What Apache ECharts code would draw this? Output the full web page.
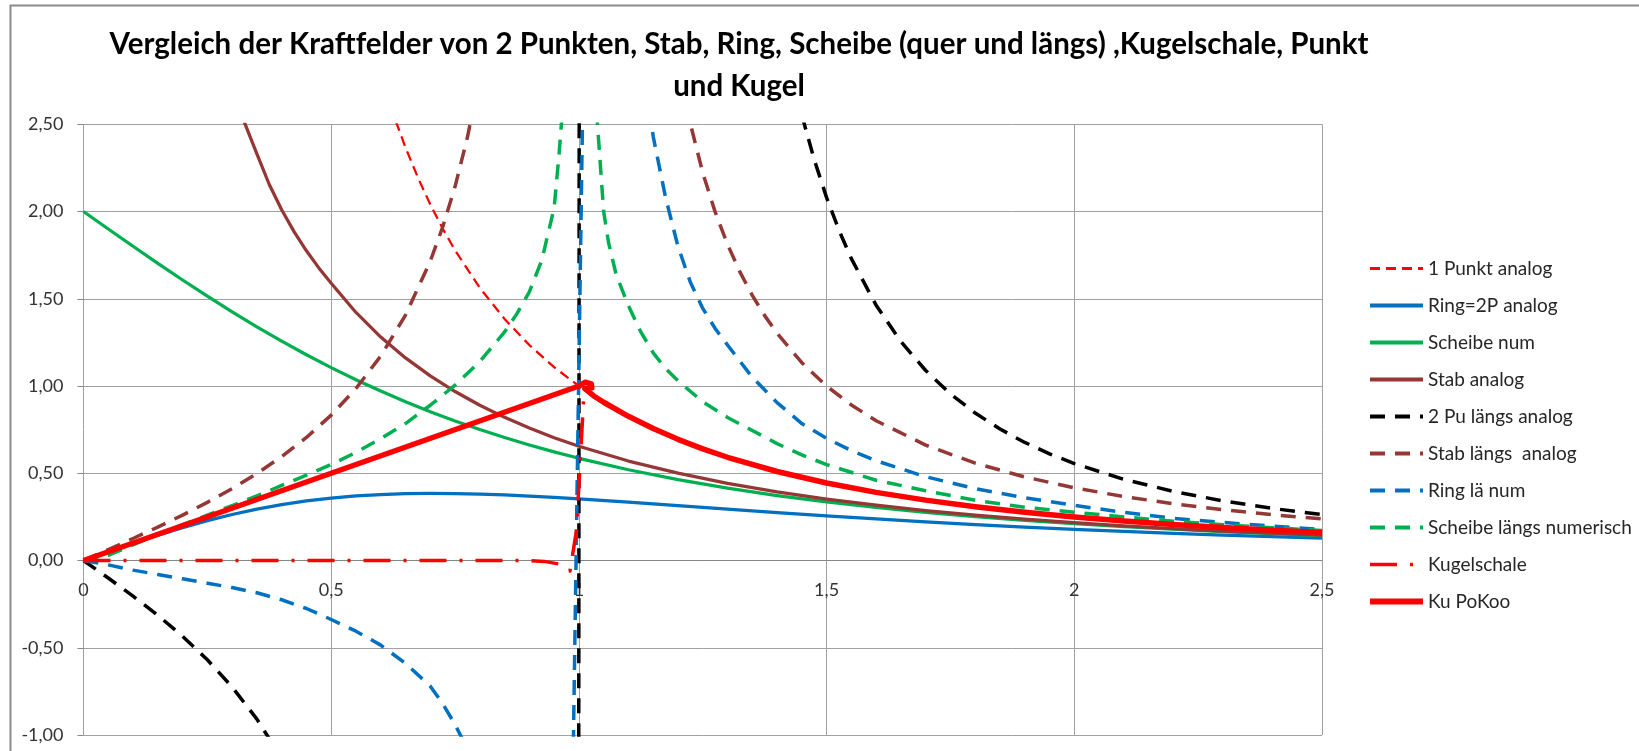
<!DOCTYPE html>
<html><head><meta charset="utf-8">
<script src="https://cdn.jsdelivr.net/npm/echarts/dist/echarts.min.js"></script>
<style>html,body{margin:0;padding:0;background:#fff}#c{width:1639px;height:751px}</style>
</head><body><div id="c"></div>
<script>
const titleText = 'Vergleich der Kraftfelder von 2 Punkten, Stab, Ring, Scheibe (quer und längs) ,Kugelschale, Punkt\nund Kugel';
const seriesNames = ['1 Punkt analog','Ring=2P analog','Scheibe num','Stab analog','2 Pu längs analog','Stab längs  analog','Ring lä num','Scheibe längs numerisch','Kugelschale','Ku PoKoo'];
const xTicks = [0, 0.5, 1, 1.5, 2, 2.5];
const yTicks = [-1, -0.5, 0, 0.5, 1, 1.5, 2, 2.5];

const punkt1 = [[0.6,2.7778],[0.625,2.56],[0.65,2.3669],[0.675,2.1948],[0.7,2.0408],[0.725,1.9025],[0.75,1.7778],[0.8,1.5625],[0.85,1.3841],[0.9,1.2346],[0.95,1.108],[1.0,1.0],[1.05,0.907],[1.1,0.8264],[1.15,0.7561],[1.2,0.6944],[1.3,0.5917],[1.4,0.5102],[1.5,0.4444],[1.6,0.3906],[1.7,0.346],[1.8,0.3086],[1.9,0.277],[2.0,0.25],[2.1,0.2268],[2.2,0.2066],[2.3,0.189],[2.4,0.1736],[2.5,0.16]];
const ring2P = [[0,0],[0.05,0.0498],[0.1,0.0985],[0.15,0.1451],[0.2,0.1886],[0.25,0.2283],[0.3,0.2636],[0.35,0.2943],[0.4,0.3202],[0.45,0.3413],[0.5,0.3578],[0.55,0.37],[0.6,0.3783],[0.65,0.3831],[0.7,0.3849],[0.75,0.384],[0.8,0.3809],[0.85,0.376],[0.9,0.3696],[0.95,0.362],[1.0,0.3536],[1.1,0.3348],[1.2,0.3149],[1.3,0.2947],[1.4,0.2749],[1.5,0.256],[1.6,0.2382],[1.7,0.2216],[1.8,0.2062],[1.9,0.192],[2.0,0.1789],[2.1,0.1669],[2.2,0.1559],[2.3,0.1458],[2.4,0.1366],[2.5,0.1281]];
const scheibe = [[0,2],[0.05,1.9001],[0.1,1.801],[0.15,1.7033],[0.2,1.6078],[0.25,1.5149],[0.3,1.4253],[0.35,1.3393],[0.4,1.2572],[0.45,1.1793],[0.5,1.1056],[0.55,1.0362],[0.6,0.971],[0.65,0.91],[0.7,0.8531],[0.75,0.8],[0.8,0.7506],[0.85,0.7047],[0.9,0.6621],[0.95,0.6225],[1.0,0.5858],[1.1,0.5201],[1.2,0.4636],[1.3,0.4148],[1.4,0.3725],[1.5,0.3359],[1.6,0.304],[1.7,0.2761],[1.8,0.2517],[1.9,0.2302],[2.0,0.2111],[2.1,0.1943],[2.2,0.1793],[2.3,0.1659],[2.4,0.1538],[2.5,0.143]];
const stab = [[0.3,2.72],[0.325,2.51],[0.35,2.33],[0.375,2.155],[0.4,2.01],[0.425,1.885],[0.45,1.775],[0.475,1.677],[0.5,1.5894],[0.55,1.4216],[0.6,1.2808],[0.65,1.161],[0.7,1.058],[0.75,0.9684],[0.8,0.8898],[0.85,0.8205],[0.9,0.759],[0.95,0.704],[1.0,0.6547],[1.1,0.57],[1.2,0.5004],[1.3,0.4424],[1.4,0.3936],[1.5,0.3522],[1.6,0.3168],[1.7,0.2862],[1.8,0.2598],[1.9,0.2367],[2.0,0.2165],[2.1,0.1987],[2.2,0.1829],[2.3,0.1689],[2.4,0.1565],[2.5,0.1453]];
const punkte2Laengs = [[0,0],[0.05,-0.1005],[0.1,-0.2041],[0.15,-0.314],[0.2,-0.434],[0.25,-0.5689],[0.3,-0.7246],[0.35,-0.9091],[0.4,-1.1338],[0.5,-1.7778],[0.7,-5.3826],[0.9,-49.86],[0.95,-199.87],[1.05,200.12],[1.1,50.11],[1.2,12.6],[1.3,5.65],[1.4,3.2118],[1.45,2.5524],[1.475,2.2977],[1.5,2.08],[1.525,1.8925],[1.55,1.7298],[1.6,1.4629],[1.65,1.2547],[1.7,1.089],[1.75,0.955],[1.8,0.845],[1.85,0.7536],[1.9,0.6767],[1.95,0.6115],[2.0,0.5556],[2.1,0.4653],[2.2,0.3961],[2.3,0.3418],[2.4,0.2984],[2.5,0.263]];
const stabLaengs = [[0,0],[0.05,0.0627],[0.1,0.1263],[0.15,0.1918],[0.2,0.2604],[0.25,0.3333],[0.3,0.4121],[0.35,0.4986],[0.4,0.5952],[0.45,0.7053],[0.5,0.8333],[0.55,0.9857],[0.6,1.1719],[0.65,1.4069],[0.7,1.7157],[0.725,1.9104],[0.75,2.1429],[0.775,2.4257],[0.8,2.7778],[0.9,5.92],[1.1,5.95],[1.2,2.8409],[1.22,2.5594],[1.25,2.2222],[1.275,1.998],[1.3,1.8116],[1.325,1.654],[1.35,1.5198],[1.375,1.4035],[1.4,1.3021],[1.45,1.1338],[1.5,1.0],[1.55,0.8913],[1.6,0.8013],[1.7,0.6614],[1.8,0.558],[1.9,0.4789],[2.0,0.4167],[2.1,0.3666],[2.2,0.3255],[2.3,0.2914],[2.4,0.2626],[2.5,0.2381]];
const ringLae = [[0,0],[0.05,-0.025],[0.1,-0.055],[0.15,-0.08],[0.2,-0.105],[0.25,-0.13],[0.3,-0.155],[0.35,-0.185],[0.4,-0.225],[0.45,-0.275],[0.5,-0.338],[0.55,-0.405],[0.6,-0.485],[0.65,-0.59],[0.7,-0.72],[0.725,-0.82],[0.75,-0.94],[0.775,-1.08],[0.8,-1.25],[0.9,-2.8],[0.97,-4.7],[1.02,5.0],[1.05,8.0],[1.1,3.5],[1.15,2.43],[1.175,2.08],[1.2,1.8],[1.225,1.595],[1.25,1.445],[1.275,1.33],[1.3,1.235],[1.35,1.05],[1.4,0.905],[1.45,0.785],[1.5,0.7],[1.55,0.63],[1.6,0.572],[1.7,0.48],[1.8,0.412],[1.9,0.36],[2.0,0.316],[2.1,0.276],[2.2,0.242],[2.3,0.218],[2.4,0.197],[2.5,0.178]];
const scheibeLae = [[0,0],[0.05,0.03],[0.1,0.09],[0.15,0.15],[0.2,0.205],[0.25,0.26],[0.3,0.315],[0.35,0.37],[0.4,0.43],[0.45,0.49],[0.5,0.55],[0.55,0.62],[0.6,0.698],[0.65,0.785],[0.7,0.89],[0.75,1.005],[0.8,1.14],[0.85,1.31],[0.875,1.415],[0.9,1.54],[0.925,1.72],[0.95,2.02],[0.96,2.33],[0.97,2.7],[0.99,4.0],[1.01,4.0],[1.03,2.8],[1.04,2.4],[1.05,2.0],[1.06,1.82],[1.075,1.64],[1.1,1.46],[1.125,1.31],[1.15,1.19],[1.175,1.1],[1.2,1.03],[1.25,0.91],[1.3,0.82],[1.35,0.745],[1.4,0.67],[1.45,0.605],[1.5,0.55],[1.6,0.46],[1.7,0.4],[1.8,0.345],[1.9,0.305],[2.0,0.277],[2.1,0.25],[2.2,0.225],[2.3,0.205],[2.4,0.188],[2.5,0.172]];
const kugelschale = [[0,0],[0.9,0],[0.93,-0.005],[0.96,-0.02],[0.982,-0.06],[0.995,0.17],[1.01,0.95],[1.02,0.961],[1.05,0.907],[1.1,0.8264],[1.2,0.6944],[1.3,0.5917],[1.4,0.5102],[1.5,0.4444],[1.6,0.3906],[1.7,0.346],[1.8,0.3086],[1.9,0.277],[2.0,0.25],[2.1,0.2268],[2.2,0.2066],[2.3,0.189],[2.4,0.1736],[2.5,0.16]];
const kuPoKoo = [[0,0],[0.5,0.5],[1.0,1.0],[1.013,1.022],[1.025,1.012],[1.026,0.99],[1.012,0.985],[1.03,0.943],[1.05,0.907],[1.1,0.8264],[1.15,0.7561],[1.2,0.6944],[1.25,0.64],[1.3,0.5917],[1.4,0.5102],[1.5,0.4444],[1.6,0.3906],[1.7,0.346],[1.8,0.3086],[1.9,0.277],[2.0,0.25],[2.1,0.2268],[2.2,0.2066],[2.3,0.189],[2.4,0.1736],[2.5,0.16]];

const seriesData = [punkt1, ring2P, scheibe, stab, punkte2Laengs, stabLaengs, ringLae, scheibeLae, kugelschale, kuPoKoo];
const styles = [
  {color:'#FF0000', width:2.25, type:[10,6], legendWidth:3},
  {color:'#0070C0', width:3.25, type:'solid', legendWidth:4},
  {color:'#00B050', width:3.25, type:'solid', legendWidth:4},
  {color:'#953735', width:3.25, type:'solid', legendWidth:4},
  {color:'#000000', width:3.5, type:[15,10], legendWidth:4},
  {color:'#953735', width:3.5, type:[15,10], legendWidth:4},
  {color:'#0070C0', width:3.5, type:[15,10], legendWidth:4},
  {color:'#00B050', width:3.5, type:[15,10], legendWidth:4},
  {color:'#FF0000', width:3.5, type:[27,13,3,13], legendWidth:3.5},
  {color:'#FF0000', width:5.5, type:'solid', legendWidth:6}
];

const FONT = 'Lato';
const GRID_L = 83.5, GRID_R = 317, GRID_T = 124.3, GRID_B = 16;
const chart = echarts.init(document.getElementById('c'), null, {renderer:'canvas'});
chart.setOption({
  animation: false,
  backgroundColor: '#ffffff',
  title: {
    text: titleText, left: 739, top: 23, textAlign: 'center', padding: 0,
    textStyle: {fontFamily: FONT, fontWeight: 'bold', fontSize: 29.5, lineHeight: 42, color: '#000'}
  },
  graphic: [{type:'rect', silent:true, z:-10, shape:{x:10.5, y:5.5, width:2000, height:1000}, style:{fill:'none', stroke:'#8a8a8a', lineWidth:2}}],
  legend: {
    orient: 'vertical', left: 1367, top: 259, padding: 0,
    itemWidth: 53, itemHeight: 18, itemGap: 18,
    itemStyle: {opacity: 0, borderWidth: 0},
    textStyle: {fontFamily: FONT, fontSize: 19, lineHeight: 18, color: '#262626'},
    data: seriesNames.map((n, i) => ({
      name: n,
      lineStyle: {width: styles[i].legendWidth, color: styles[i].color, type: styles[i].type}
    }))
  },
  grid: [
    {left: GRID_L, right: GRID_R, top: GRID_T, bottom: GRID_B, containLabel: false},
    {left: GRID_L, right: GRID_R, top: GRID_T, bottom: 191, containLabel: false}
  ],
  xAxis: [{
    type: 'value', min: xTicks[0], max: xTicks[xTicks.length-1], interval: 0.5,
    axisLine: {onZero: true, lineStyle: {color: '#868686', width: 1}},
    axisTick: {show: false},
    splitLine: {show: true, lineStyle: {color: '#A0A0A0', width: 1}},
    axisLabel: {show: false}
  }, {
    gridIndex: 1, type: 'value', position: 'bottom', min: xTicks[0], max: xTicks[xTicks.length-1], interval: 0.5,
    axisLine: {show: false, onZero: false}, axisTick: {show: false}, splitLine: {show: false},
    axisLabel: {margin: 21, color: '#333', fontFamily: FONT, fontSize: 18,
      formatter: v => String(v).replace('.', ',')}
  }],
  yAxis: [{
    type: 'value', min: yTicks[0], max: yTicks[yTicks.length-1], interval: 0.5,
    axisLine: {show: false},
    axisTick: {show: true, length: 6, lineStyle: {color: '#868686'}},
    splitLine: {show: true, lineStyle: {color: '#A0A0A0', width: 1}},
    axisLabel: {margin: 20, color: '#333', fontFamily: FONT, fontSize: 18,
      formatter: v => v.toFixed(2).replace('.', ',')}
  }, {
    gridIndex: 1, type: 'value', min: 0, max: 1, show: false
  }],
  series: seriesNames.map((n, i) => ({
    name: n, type: 'line', data: seriesData[i], symbol: 'none', showSymbol: false,
    smooth: false,
    silent: true, clip: true,
    itemStyle: {color: styles[i].color},
    lineStyle: {color: styles[i].color, width: styles[i].width, type: styles[i].type, join: 'round'},
    emphasis: {disabled: true}
  }))
});
</script></body></html>
